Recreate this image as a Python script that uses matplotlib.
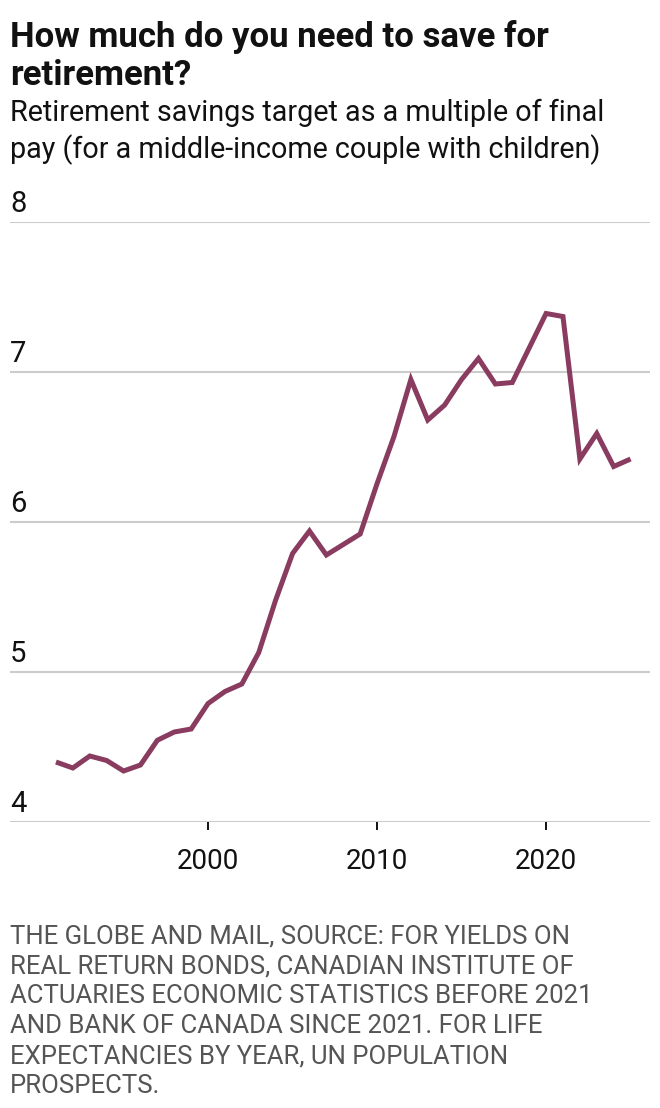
import matplotlib
matplotlib.use("Agg")
import matplotlib.pyplot as plt
import matplotlib.transforms as mtransforms

years = list(range(1991, 2026))
values = [4.40, 4.36, 4.44, 4.41, 4.34, 4.38, 4.545, 4.60, 4.62, 4.79,
          4.87, 4.92, 5.13, 5.48, 5.79, 5.94, 5.78, 5.85, 5.92, 6.256,
          6.57, 6.95, 6.68, 6.78, 6.95, 7.09, 6.92, 6.93, 7.16, 7.39,
          7.37, 6.42, 6.59, 6.37, 6.42]
y_ticks = [4, 5, 6, 7, 8]
x_ticks = [2000, 2010, 2020]

title = "How much do you need to save for\nretirement?"
subtitle = "Retirement savings target as a multiple of final\npay (for a middle-income couple with children)"
footnote = ("THE GLOBE AND MAIL, SOURCE: FOR YIELDS ON\n"
            "REAL RETURN BONDS, CANADIAN INSTITUTE OF\n"
            "ACTUARIES ECONOMIC STATISTICS BEFORE 2021\n"
            "AND BANK OF CANADA SINCE 2021. FOR LIFE\n"
            "EXPECTANCIES BY YEAR, UN POPULATION\n"
            "PROSPECTS.")

W, H = 660, 1108
fig = plt.figure(figsize=(W / 100, H / 100), dpi=100)
fig.patch.set_facecolor("white")

def fx(px):
    return px / W

def fy(py):
    return 1 - py / H

ax = fig.add_axes([fx(10), fy(822), fx(640), (822 - 222) / H])
ax.plot(years, values, color="#893c5f", lw=3.6, solid_capstyle="butt",
        solid_joinstyle="miter", clip_on=False, zorder=3)
ax.set_xlim(1988.28, 2026.15)
ax.set_ylim(4, 8)
for s in ax.spines.values():
    s.set_visible(False)
ax.set_yticks(y_ticks)
ax.yaxis.grid(True, color="#cccccc", lw=1.5)
ax.tick_params(axis="y", length=0, labelleft=False)
ax.set_xticks(x_ticks)
ax.set_xticklabels([str(x) for x in x_ticks], fontsize=20, family="Roboto")
ax.tick_params(axis="x", length=6, width=1.4, color="#111111", pad=13,
               labelcolor="#111111")
ax.set_axisbelow(True)

tr = mtransforms.offset_copy(ax.get_yaxis_transform(), fig=fig, x=0, y=7.5,
                             units="points")
for v in y_ticks:
    ax.text(0, v, str(v), transform=tr, ha="left", va="baseline",
            fontsize=21, family="Roboto", color="#111111")

# multiline texts: y is the baseline of the last line
fig.text(fx(10), fy(85), title, ha="left", va="baseline", fontsize=25,
         fontweight="bold", family="Roboto", color="#111111", linespacing=1.21)
fig.text(fx(10), fy(158), subtitle, ha="left", va="baseline", fontsize=20.7,
         family="Roboto", color="#111111", linespacing=1.3)
fig.text(fx(10), fy(1093), footnote, ha="left", va="baseline", fontsize=18.5,
         family="Roboto", color="#555555", linespacing=1.31)

fig.savefig("out.png", dpi=100, facecolor="white")
